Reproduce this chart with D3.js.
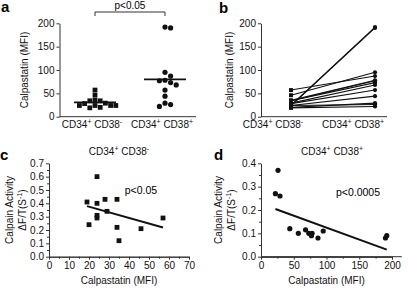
<!DOCTYPE html>
<html>
<head>
<meta charset="utf-8">
<script src="https://cdn.jsdelivr.net/npm/d3@7"></script>
<style>
  body { margin: 0; background: #fff; }
  svg { font-family: "Liberation Sans", Arial, sans-serif; }
  .axis path, .axis line { stroke: #333; }
  .axis text { font-size: 10px; fill: #111; }
</style>
</head>
<body>
<div id="chart"></div>
<script>
// groups and values
const groups = ["neg", "pos"];
// CD34+ CD38- : calpastatin MFI and matching calpain activity
const negCalp = [19, 20, 24, 24, 24, 24, 28, 29, 34, 34, 35, 46, 57];
const negActivity = [0.41, 0.24, 0.60, 0.40, 0.31, 0.29, 0.43, 0.34, 0.43, 0.22, 0.12, 0.21, 0.29];
// CD34+ CD38+ : calpastatin MFI and matching calpain activity
const posCalp = [22, 26, 29, 44, 57, 68, 73, 77, 78, 87, 95, 190, 192];
const posActivity = [0.27, 0.37, 0.26, 0.12, 0.10, 0.115, 0.10, 0.09, 0.10, 0.08, 0.11, 0.08, 0.09];
// panel b: CD38+ partner of each negCalp entry
const pairedPos = [22, 29, 190, 192, 44, 26, 57, 68, 73, 77, 78, 95, 87];
const mfiTicks = [0, 50, 100, 150, 200];
const actTicksC = [0, 0.1, 0.2, 0.3, 0.4, 0.5, 0.6, 0.7];
const actTicksD = [0, 0.1, 0.2, 0.3, 0.4];
const calpTicksC = [0, 10, 20, 30, 40, 50, 60, 70];
const calpTicksD = [0, 50, 100, 150, 200];

const svg = d3.select("#chart").append("svg")
    .attr("width", 409).attr("height", 289);

// text with superscripts: parts = [[text, isSup], ...]
function richText(g, x, y, parts, size, anchor, rotate) {
    const t = g.append("text")
        .attr("x", x).attr("y", y)
        .attr("font-size", size)
        .attr("text-anchor", anchor || "middle")
        .attr("fill", "#111");
    if (rotate) t.attr("transform", `rotate(-90,${x},${y})`);
    parts.forEach(p => {
        const s = t.append("tspan").text(p[0]);
        if (p[1]) s.attr("font-size", size * 0.7).attr("dy", -size * 0.4);
        else if (t.selectAll("tspan").size() > 1) s.attr("dy", size * 0.4);
    });
    return t;
}
const negLabel = [["CD34", 0], ["+", 1], [" CD38", 0], ["-", 1]];
const posLabel = [["CD34", 0], ["+", 1], [" CD38", 0], ["+", 1]];

function letter(x, y, s) {
    svg.append("text").attr("x", x).attr("y", y)
        .attr("font-size", 15).attr("font-weight", "bold").text(s);
}

// simple beeswarm so symbols don't overlap
function swarm(vals, y, cx, size) {
    const placed = [];
    vals.map(v => ({ v, py: y(v) }))
        .sort((a, b) => a.py - b.py)
        .forEach(p => {
            for (let k = 0; k < 20; k++) {
                const off = (k % 2 ? 1 : -1) * Math.ceil(k / 2) * size;
                const hit = placed.some(q => Math.abs(q.px - (cx + off)) < size - 0.1 && Math.abs(q.py - p.py) < size - 0.1);
                if (!hit) { placed.push({ v: p.v, py: p.py, px: cx + off }); break; }
            }
        });
    return placed;
}

function yAxis(g, scale, x, ticks, fmt, minor) {
    g.append("g").attr("class", "axis")
        .attr("transform", `translate(${x},0)`)
        .call(d3.axisLeft(scale).tickValues(ticks).tickFormat(fmt).tickSize(3).tickSizeOuter(0).tickPadding(2));
    if (minor) g.append("g").attr("class", "axis")
        .attr("transform", `translate(${x},0)`)
        .call(d3.axisLeft(scale).tickValues(minor).tickFormat("").tickSize(2).tickSizeOuter(0));
}
function xAxis(g, scale, y, ticks, fmt, minor) {
    g.append("g").attr("class", "axis")
        .attr("transform", `translate(0,${y})`)
        .call(d3.axisBottom(scale).tickValues(ticks).tickFormat(fmt).tickSize(3).tickSizeOuter(0).tickPadding(2));
    if (minor) g.append("g").attr("class", "axis")
        .attr("transform", `translate(0,${y})`)
        .call(d3.axisBottom(scale).tickValues(minor).tickFormat("").tickSize(2).tickSizeOuter(0));
}
function fitLine(xs, ys) {
    const mx = d3.mean(xs), my = d3.mean(ys);
    const b = d3.sum(xs, (x, i) => (x - mx) * (ys[i] - my)) / d3.sum(xs, x => (x - mx) * (x - mx));
    const e = d3.extent(xs);
    return e.map(x => [x, my + b * (x - mx)]);
}

// ---------- panel a ----------
const ga = svg.append("g");
const yA = d3.scaleLinear().domain([0, 200]).range([116.7, 23.3]);
const xA = d3.scalePoint().domain(groups).range([95, 165]);
yAxis(ga, yA, 59.5, mfiTicks, d3.format("d"));
ga.append("line").attr("x1", 59.5).attr("x2", 196)
    .attr("y1", yA(0)).attr("y2", yA(0)).attr("stroke", "#333");

swarm(negCalp, yA, xA("neg"), 5.2).forEach(p => {
    ga.append("rect").attr("x", p.px - 2.4).attr("y", p.py - 2.4)
        .attr("width", 4.8).attr("height", 4.8).attr("fill", "#111");
});
swarm(posCalp, yA, xA("pos"), 5.6).forEach(p => {
    ga.append("circle").attr("cx", p.px).attr("cy", p.py).attr("r", 2.6).attr("fill", "#111");
});
[["neg", negCalp], ["pos", posCalp]].forEach(([k, v]) => {
    ga.append("line").attr("x1", xA(k) - 21).attr("x2", xA(k) + 21)
        .attr("y1", yA(d3.mean(v))).attr("y2", yA(d3.mean(v)))
        .attr("stroke", "#111").attr("stroke-width", 1.6);
});
richText(ga, xA("neg") - 3, 128, negLabel, 10);
richText(ga, xA("pos") - 3, 128, posLabel, 10);
richText(ga, 28, yA(100), [["Calpastatin (MFI)", 0]], 10, "middle", true);
// significance bracket
ga.append("path")
    .attr("d", `M${xA("neg")},16V12H${xA("pos")}V16`)
    .attr("fill", "none").attr("stroke", "#333");
ga.append("text").attr("x", (xA("neg") + xA("pos")) / 2).attr("y", 9)
    .attr("text-anchor", "middle").attr("font-size", 10).text("p<0.05");
letter(1, 12, "a");

// ---------- panel b ----------
const gb = svg.append("g");
const xB = d3.scalePoint().domain(groups).range([291, 375]);
yAxis(gb, yA, 261, mfiTicks, d3.format("d"));
gb.append("line").attr("x1", 261).attr("x2", 387)
    .attr("y1", yA(0)).attr("y2", yA(0)).attr("stroke", "#333");
negCalp.forEach((v, i) => {
    gb.append("line")
        .attr("x1", xB("neg")).attr("y1", yA(v))
        .attr("x2", xB("pos")).attr("y2", yA(pairedPos[i]))
        .attr("stroke", "#111").attr("stroke-width", 1.1);
});
negCalp.forEach(v => {
    gb.append("rect").attr("x", xB("neg") - 2).attr("y", yA(v) - 2)
        .attr("width", 4).attr("height", 4).attr("fill", "#111");
});
pairedPos.forEach(v => {
    gb.append("circle").attr("cx", xB("pos")).attr("cy", yA(v)).attr("r", 2.1).attr("fill", "#111");
});
richText(gb, xB("neg") - 18, 128, negLabel, 10);
richText(gb, xB("pos") - 22, 128, posLabel, 10);
richText(gb, 233, yA(100), [["Calpastatin (MFI)", 0]], 10, "middle", true);
letter(219, 13, "b");

// ---------- panel c ----------
const gc = svg.append("g");
const xC = d3.scaleLinear().domain([0, 70]).range([49, 189]);
const yC = d3.scaleLinear().domain([0, 0.7]).range([256.7, 163.3]);
yAxis(gc, yC, 49, actTicksC, d3.format(".1f"), d3.range(0.05, 0.7, 0.1));
xAxis(gc, xC, 256.7, calpTicksC, d3.format("d"), d3.range(5, 70, 10));
negCalp.forEach((v, i) => {
    gc.append("rect").attr("x", xC(v) - 2.4).attr("y", yC(negActivity[i]) - 2.4)
        .attr("width", 4.8).attr("height", 4.8).attr("fill", "#111");
});
gc.append("path").datum(fitLine(negCalp, negActivity))
    .attr("d", d3.line().x(d => xC(d[0])).y(d => yC(d[1])))
    .attr("stroke", "#111").attr("stroke-width", 2).attr("fill", "none");
richText(gc, 119, 155, negLabel, 10);
gc.append("text").attr("x", 141).attr("y", 194).attr("text-anchor", "middle")
    .attr("font-size", 10.5).text("p<0.05");
richText(gc, 13, 210, [["Calpain Activity", 0]], 10, "middle", true);
richText(gc, 26, 210, [["\u0394F/T(S", 0], ["-1", 1], [")", 0]], 10, "middle", true);
richText(gc, xC(35), 284, [["Calpastatin (MFI)", 0]], 10);
letter(0, 160, "c");

// ---------- panel d ----------
const gd = svg.append("g");
const xD = d3.scaleLinear().domain([0, 200]).range([261, 392]);
const yD = d3.scaleLinear().domain([0, 0.4]).range([256.7, 163.3]);
yAxis(gd, yD, 261, actTicksD, d3.format(".1f"), d3.range(0.05, 0.4, 0.1));
xAxis(gd, xD, 256.7, calpTicksD, d3.format("d"), d3.range(25, 215, 50));
gd.select(".axis path").attr("d", null);
gd.append("line").attr("x1", xD(0)).attr("x2", xD(215))
    .attr("y1", 256.7).attr("y2", 256.7).attr("stroke", "#333");
posCalp.forEach((v, i) => {
    gd.append("circle").attr("cx", xD(v)).attr("cy", yD(posActivity[i])).attr("r", 2.6).attr("fill", "#111");
});
gd.append("path").datum(fitLine(posCalp, posActivity))
    .attr("d", d3.line().x(d => xD(d[0])).y(d => yD(d[1])))
    .attr("stroke", "#111").attr("stroke-width", 2).attr("fill", "none");
richText(gd, 332, 155, posLabel, 10);
gd.append("text").attr("x", 358).attr("y", 196).attr("text-anchor", "middle")
    .attr("font-size", 10.5).text("p<0.0005");
richText(gd, 222, 210, [["Calpain Activity", 0]], 10, "middle", true);
richText(gd, 235, 210, [["\u0394F/T(S", 0], ["-1", 1], [")", 0]], 10, "middle", true);
richText(gd, xD(100), 284, [["Calpastatin (MFI)", 0]], 10);
letter(214, 160, "d");
</script>
</body>
</html>
